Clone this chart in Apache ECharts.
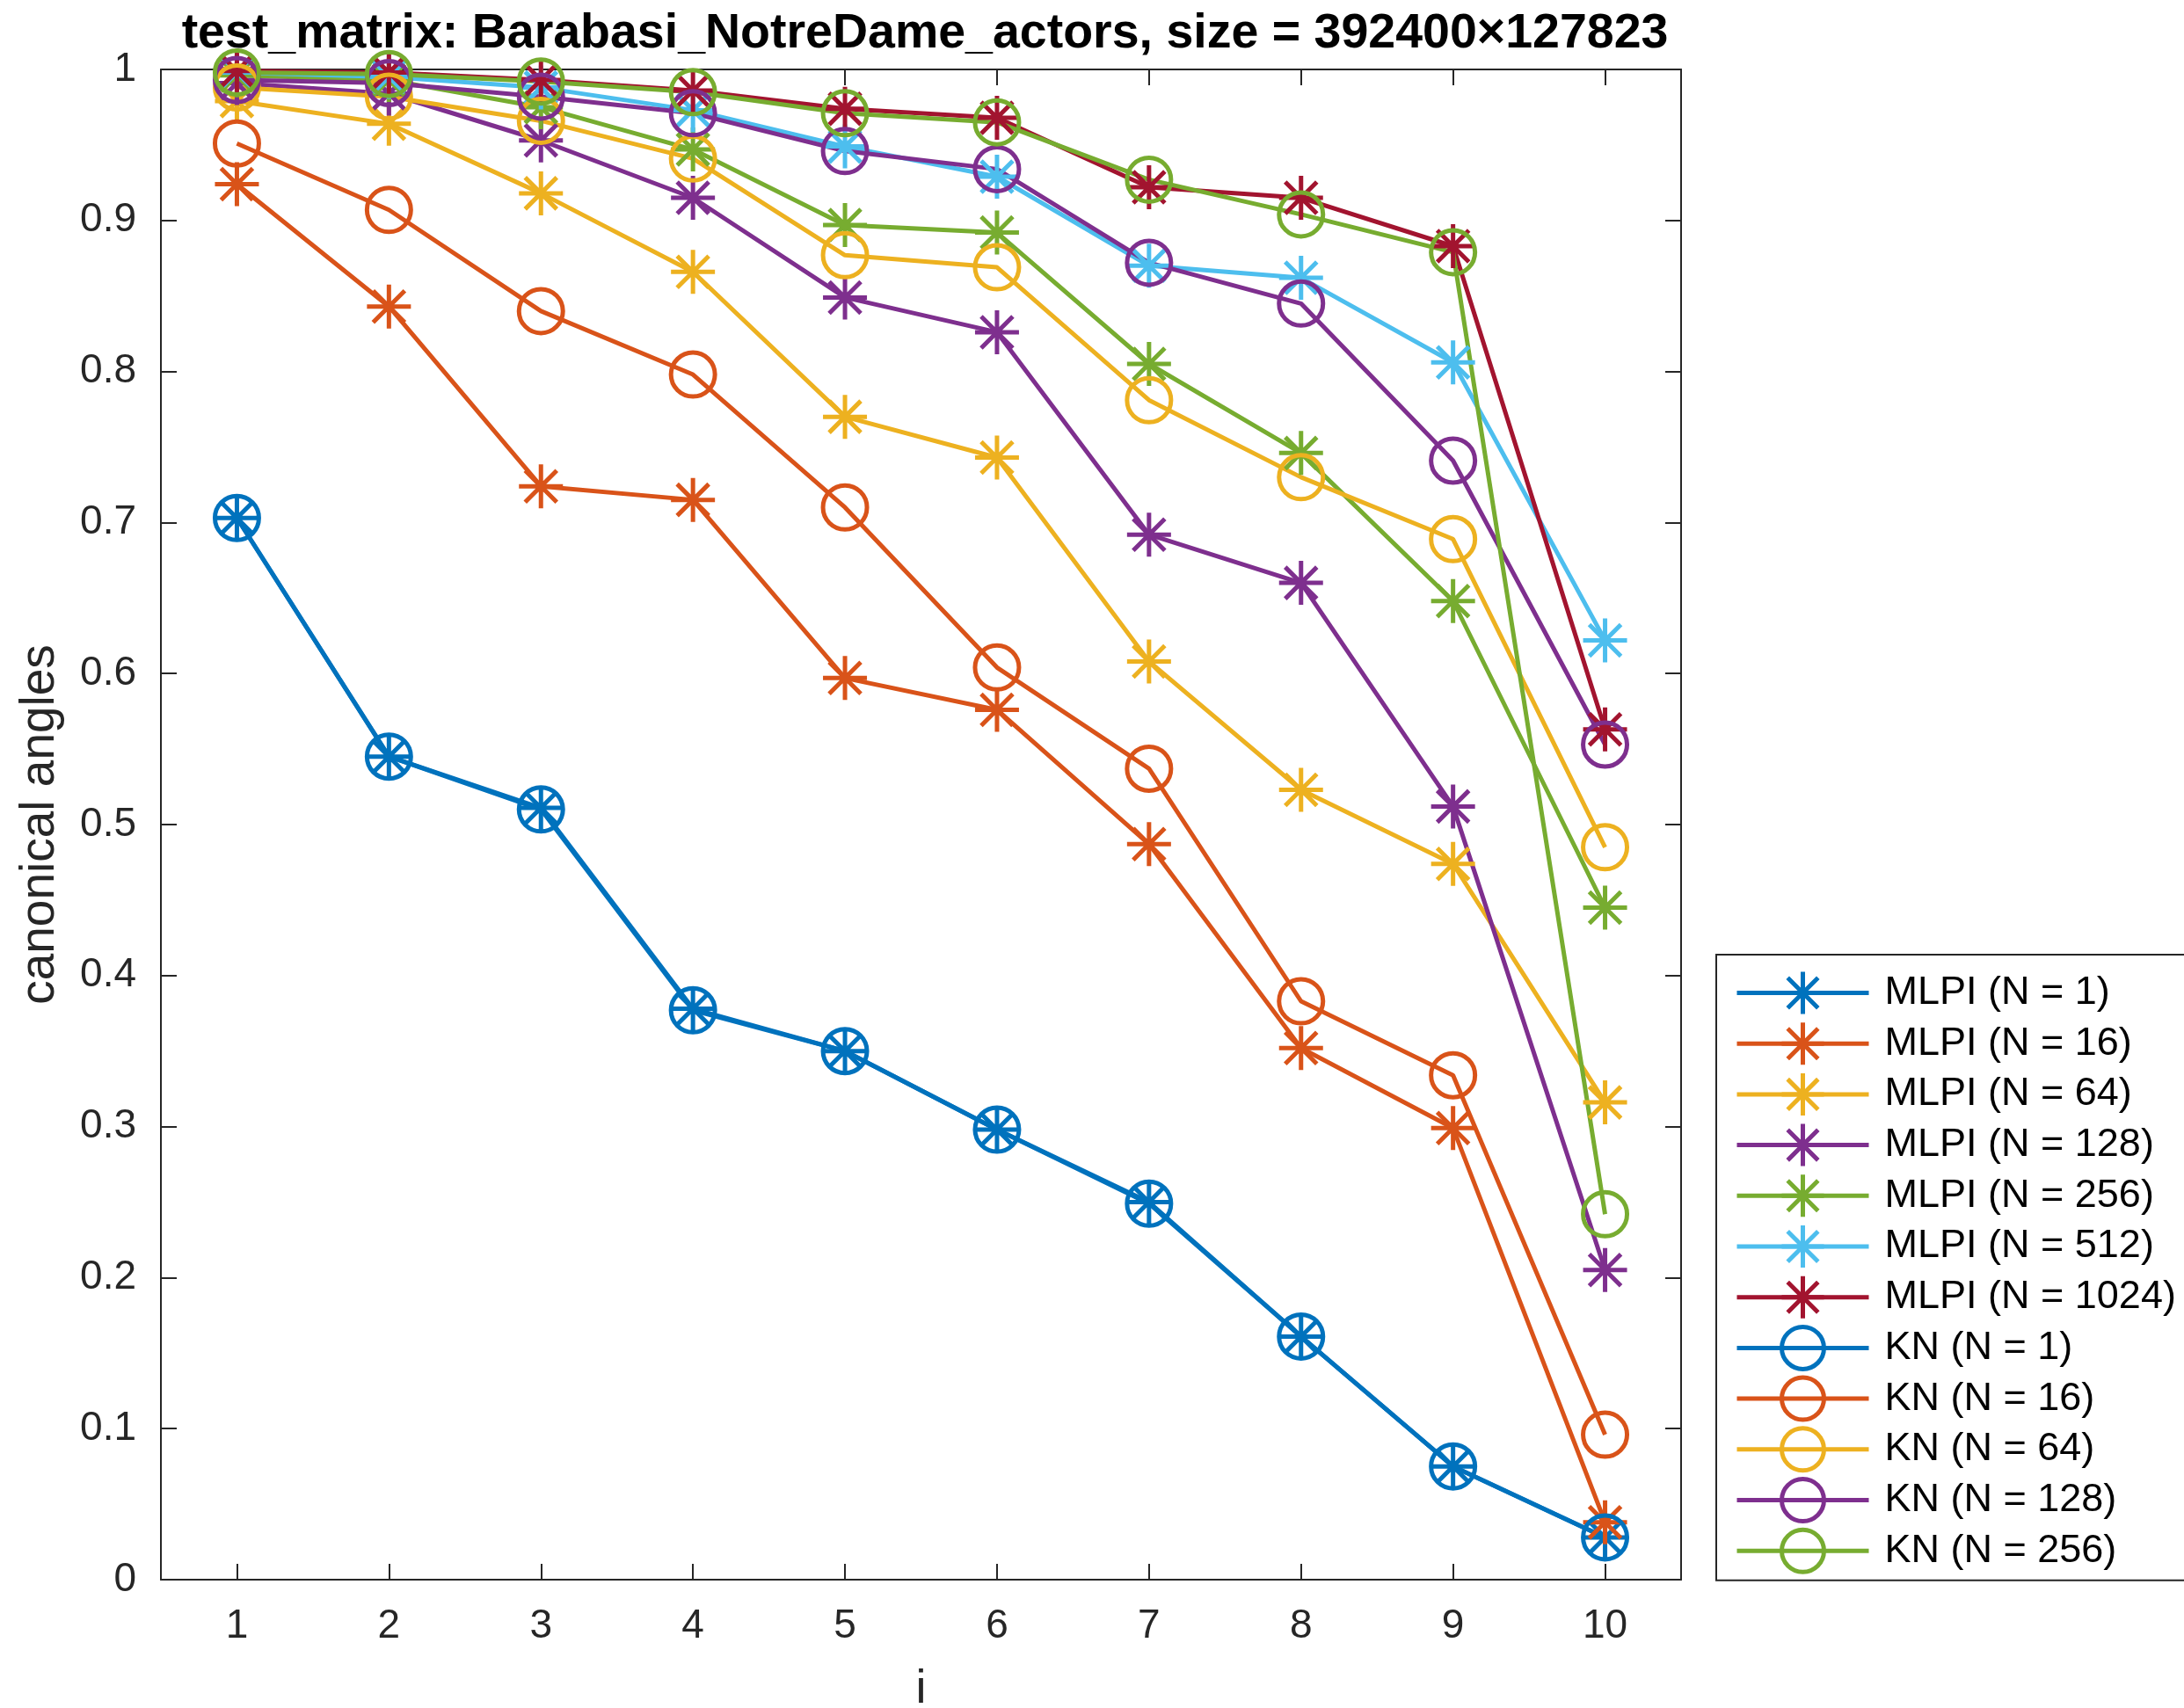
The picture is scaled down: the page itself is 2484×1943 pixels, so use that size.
<!DOCTYPE html>
<html>
<head>
<meta charset="utf-8">
<script src="https://cdn.jsdelivr.net/npm/echarts@6/dist/echarts.min.js"></script>
<style>
  html, body { margin: 0; padding: 0; background: #fff; }
  #chart { width: 2484px; height: 1943px; }
</style>
</head>
<body>
<div id="chart"></div>
<script>
// Index i of the canonical angle (x axis)
const indices = ['1', '2', '3', '4', '5', '6', '7', '8', '9', '10'];

// MLPI with block size N
const mlpi1    = [0.703, 0.545, 0.511, 0.378, 0.350, 0.298, 0.250, 0.161, 0.075, 0.028];
const mlpi16   = [0.924, 0.843, 0.724, 0.715, 0.597, 0.576, 0.487, 0.352, 0.299, 0.038];
const mlpi64   = [0.979, 0.964, 0.918, 0.866, 0.770, 0.743, 0.608, 0.523, 0.474, 0.316];
const mlpi128  = [0.991, 0.984, 0.953, 0.915, 0.849, 0.826, 0.692, 0.660, 0.512, 0.205];
const mlpi256  = [0.996, 0.993, 0.975, 0.947, 0.897, 0.892, 0.805, 0.746, 0.648, 0.445];
const mlpi512  = [0.998, 0.995, 0.988, 0.973, 0.949, 0.929, 0.870, 0.862, 0.806, 0.622];
const mlpi1024 = [0.999, 0.998, 0.993, 0.986, 0.974, 0.968, 0.922, 0.915, 0.883, 0.563];

// KN with block size N
const kn1   = [0.703, 0.545, 0.510, 0.377, 0.350, 0.298, 0.249, 0.161, 0.075, 0.028];
const kn16  = [0.951, 0.907, 0.840, 0.798, 0.710, 0.604, 0.537, 0.383, 0.334, 0.096];
const kn64  = [0.988, 0.982, 0.966, 0.941, 0.877, 0.869, 0.781, 0.730, 0.689, 0.485];
const kn128 = [0.993, 0.991, 0.982, 0.971, 0.946, 0.934, 0.872, 0.845, 0.741, 0.553];
const kn256 = [0.998, 0.997, 0.992, 0.985, 0.971, 0.965, 0.927, 0.904, 0.879, 0.242];

// Y tick values
const yTicks = [0, 0.1, 0.2, 0.3, 0.4, 0.5, 0.6, 0.7, 0.8, 0.9, 1];

const FONT = "'Liberation Sans', Arial, Helvetica, sans-serif";
const AXIS_COLOR = '#262626';
const COLORS = ['#0072BD', '#D95319', '#EDB120', '#7E2F8E', '#77AC30', '#4DBEEE', '#A2142F'];

// open 8-spoke asterisk and hollow ring markers
const ASTERISK = 'path://M0,-1L0,1M-1,0L1,0M-0.72,-0.72L0.72,0.72M-0.72,0.72L0.72,-0.72';
const LINE_W = 5;

const seriesDefs = [
  { name: 'MLPI (N = 1)',    data: mlpi1,    color: COLORS[0], marker: 'asterisk' },
  { name: 'MLPI (N = 16)',   data: mlpi16,   color: COLORS[1], marker: 'asterisk' },
  { name: 'MLPI (N = 64)',   data: mlpi64,   color: COLORS[2], marker: 'asterisk' },
  { name: 'MLPI (N = 128)',  data: mlpi128,  color: COLORS[3], marker: 'asterisk' },
  { name: 'MLPI (N = 256)',  data: mlpi256,  color: COLORS[4], marker: 'asterisk' },
  { name: 'MLPI (N = 512)',  data: mlpi512,  color: COLORS[5], marker: 'asterisk' },
  { name: 'MLPI (N = 1024)', data: mlpi1024, color: COLORS[6], marker: 'asterisk' },
  { name: 'KN (N = 1)',      data: kn1,      color: COLORS[0], marker: 'circle' },
  { name: 'KN (N = 16)',     data: kn16,     color: COLORS[1], marker: 'circle' },
  { name: 'KN (N = 64)',     data: kn64,     color: COLORS[2], marker: 'circle' },
  { name: 'KN (N = 128)',    data: kn128,    color: COLORS[3], marker: 'circle' },
  { name: 'KN (N = 256)',    data: kn256,    color: COLORS[4], marker: 'circle' }
];

const series = seriesDefs.map(function (d) {
  return {
    name: d.name,
    type: 'line',
    xAxisIndex: 0,
    yAxisIndex: 0,
    data: d.data,
    symbol: d.marker === 'asterisk' ? ASTERISK : 'circle',
    symbolSize: 50,
    showAllSymbol: true,
    lineStyle: { color: d.color, width: LINE_W },
    itemStyle: { color: 'none', borderColor: d.color, borderWidth: LINE_W },
    emphasis: { disabled: true },
    animation: false
  };
});

const chart = echarts.init(document.getElementById('chart'), null, { renderer: 'canvas' });

const tickCommon = { show: true, inside: true, length: 18, lineStyle: { color: AXIS_COLOR, width: 2 } };
const lineCommon = { show: true, onZero: false, lineStyle: { color: AXIS_COLOR, width: 2 } };

chart.setOption({
  backgroundColor: '#ffffff',
  animation: false,
  title: {
    text: 'test_matrix: Barabasi_NotreDame_actors, size = 392400\u00d7127823',
    left: 1047,
    textAlign: 'center',
    top: 6,
    textStyle: { fontFamily: FONT, fontWeight: 'bold', fontSize: 55.5, color: '#000' }
  },
  grid: {
    left: 183, right: 572, top: 79, bottom: 146,
    containLabel: false,
    outerBoundsMode: 'none'
  },
  legend: {
    orient: 'vertical',
    left: 1952,
    top: 1086,
    padding: [17, 20, 7, 21],
    itemWidth: 150,
    itemHeight: 60,
    itemGap: 4.7,
    borderColor: AXIS_COLOR,
    borderWidth: 2,
    backgroundColor: '#fff',
    selectedMode: false,
    itemStyle: { borderWidth: LINE_W },
    lineStyle: { width: LINE_W },
    textStyle: { fontFamily: FONT, fontSize: 45, color: '#000', padding: [0, 0, 0, 13] },
    data: seriesDefs.map(function (d) { return d.name; })
  },
  xAxis: [
    {
      type: 'category',
      data: indices,
      boundaryGap: true,
      position: 'bottom',
      name: 'i',
      nameLocation: 'middle',
      nameGap: 98,
      nameTextStyle: { fontFamily: FONT, fontSize: 54, color: AXIS_COLOR },
      axisLine: lineCommon,
      axisTick: Object.assign({ alignWithLabel: true }, tickCommon),
      axisLabel: { fontFamily: FONT, fontSize: 46, color: AXIS_COLOR, margin: 30 },
      splitLine: { show: false }
    },
    {
      type: 'category',
      data: indices,
      boundaryGap: true,
      position: 'top',
      axisLine: lineCommon,
      axisTick: Object.assign({ alignWithLabel: true }, tickCommon),
      axisLabel: { show: false },
      splitLine: { show: false }
    }
  ],
  yAxis: [
    {
      type: 'value',
      min: yTicks[0],
      max: yTicks[yTicks.length - 1],
      interval: 0.1,
      position: 'left',
      name: 'canonical angles',
      nameLocation: 'middle',
      nameGap: 110,
      nameRotate: 90,
      nameTextStyle: { fontFamily: FONT, fontSize: 55, color: AXIS_COLOR },
      axisLine: lineCommon,
      axisTick: tickCommon,
      axisLabel: {
        fontFamily: FONT, fontSize: 46, color: AXIS_COLOR, margin: 28,
        formatter: function (v) { return String(Math.round(v * 10) / 10); }
      },
      splitLine: { show: false }
    },
    {
      type: 'value',
      min: yTicks[0],
      max: yTicks[yTicks.length - 1],
      interval: 0.1,
      position: 'right',
      axisLine: lineCommon,
      axisTick: tickCommon,
      axisLabel: { show: false },
      splitLine: { show: false }
    }
  ],
  series: series
});
</script>
</body>
</html>
